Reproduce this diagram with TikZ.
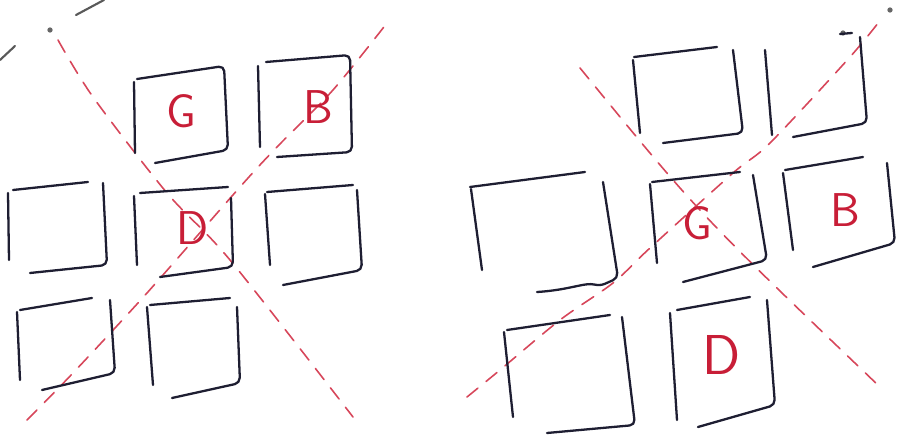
\documentclass[tikz,border=0pt]{standalone}
\usepackage{fontspec}
\definecolor{ink}{RGB}{30,30,50}
\definecolor{redink}{RGB}{200,30,55}
\definecolor{guide}{RGB}{215,70,90}
\tikzset{
  box/.style={draw=ink, line width=1.3pt, line cap=round, line join=round, rounded corners=3pt},
  guideline/.style={draw=guide, line width=0.9pt, dash pattern=on 8pt off 6pt, line cap=round},
  greydash/.style={draw=black!65, line width=1.2pt, line cap=round},
  letter/.style={text=redink, font=\sffamily\fontsize{27}{27}\selectfont, inner sep=0pt},
  dot/.style={fill=black!60, circle, inner sep=0pt, minimum size=3pt}
}
\begin{document}
\begin{tikzpicture}[x=0.02cm, y=-0.02cm]
\path[use as bounding box, fill=white] (0,0) rectangle (900,445);

% ---------- left panel : guide lines ----------
\draw[greydash] (0,60) -- (15,46);
\draw[greydash] (76,15) -- (104,0);
\node[dot] (ld1) at (50,30) {};
\draw[guideline] plot[smooth] coordinates {(58,40) (93,97) (167,193) (230,260) (353,417)};
\draw[guideline] plot[smooth] coordinates {(27,420) (73,373) (147,293) (240,187) (277,147) (333,90) (387,23)};

% ---------- left panel : squares ----------
% G
\draw[box] (137,79) -- (224,66) -- (228,150) -- (155,163);
\draw[box] (134,82) -- (135,153);
% B
\draw[box] (266,62) -- (350,55) -- (352,152) -- (277,157);
\draw[box] (258,66) -- (260,147);
% mid left
\draw[box] (13,190) -- (88,182);
\draw[box] (8,193) -- (9,260);
\draw[box] (103,183) -- (107,265) -- (30,273);
% D
\draw[box] (140,193) -- (228,187);
\draw[box] (134,196) -- (137,265);
\draw[box] (231,198) -- (233,267) -- (160,277);
% mid right
\draw[box] (267,192) -- (353,185);
\draw[box] (265,194) -- (270,265);
\draw[box] (357,190) -- (362,270) -- (283,285);
% bottom left
\draw[box] (20,310) -- (92,298);
\draw[box] (17,312) -- (20,380);
\draw[box] (110,300) -- (115,373) -- (42,390);
% bottom mid
\draw[box] (150,305) -- (230,298);
\draw[box] (147,307) -- (153,385);
\draw[box] (237,307) -- (240,383) -- (172,398);

\node[letter] (lG) at (181,111) {G};
\node[letter] (lB) at (318,107) {B};
\node[letter] (lD) at (193,228) {D};

% ---------- right panel : guide lines ----------
\node[dot] (rd1) at (843,33) {};
\node[dot] (rd2) at (890,10) {};
\draw[guideline] (580,68) .. controls (700,215) .. (880,387);
\draw[guideline] plot[smooth] coordinates {(467,397) (500,370) (560,320) (613,283) (650,248) (733,173) (770,143) (850,57) (882,18)};

% ---------- right panel : squares ----------
% top left
\draw[box] (634,57) -- (717,47);
\draw[box] (633,60) -- (640,133);
\draw[box] (733,50) -- (743,133) -- (663,143);
% top right
\draw[box] (765,50) -- (772,135);
\draw[box] (840,34) -- (852,33);
\draw[box] (860,37) -- (867,123) -- (793,137);
% mid left (big)
\draw[box] (470,187) -- (585,172);
\draw[box] (471,189) -- (482,270);
\draw[box] (603,182) -- (618,278) -- (600,286) .. controls (585,282) and (570,290) .. (537,292);
% G
\draw[box] (652,182) -- (740,172);
\draw[box] (650,184) -- (657,263);
\draw[box] (753,175) -- (767,260) -- (683,282);
% B
\draw[box] (785,170) -- (863,157);
\draw[box] (783,173) -- (793,250);
\draw[box] (887,163) -- (895,243) -- (813,267);
% bottom left
\draw[box] (507,330) -- (610,315);
\draw[box] (504,332) -- (513,417);
\draw[box] (622,317) -- (635,425) -- (547,433);
% D
\draw[box] (677,310) -- (750,297);
\draw[box] (670,313) -- (677,420);
\draw[box] (767,300) -- (775,405) -- (698,427);

\node[letter] (rG) at (697,223) {G};
\node[letter] (rB) at (845,210) {B};
\node[letter, font=\sffamily\fontsize{32}{32}\selectfont] (rD) at (722,355) {D};
\end{tikzpicture}
\end{document}
